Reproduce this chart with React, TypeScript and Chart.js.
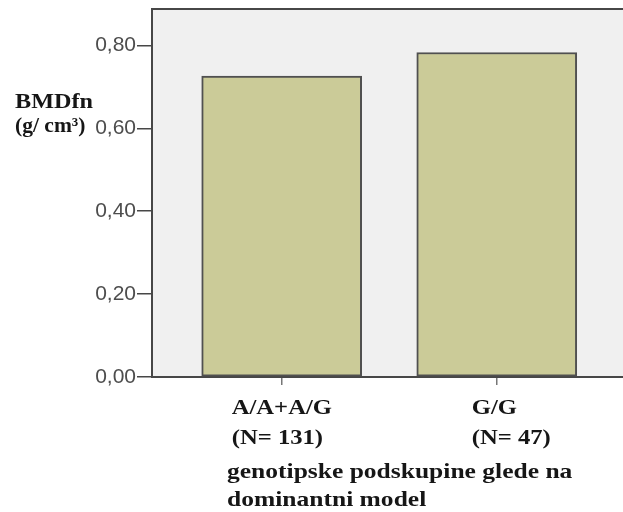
import React, { useEffect, useRef } from "react";
import { Chart, registerables } from "chart.js";

Chart.register(...registerables);

// Genotype subgroups (dominant model) and their mean femoral-neck BMD
const categories = ["A/A+A/G", "G/G"];
const groupSizes = ["(N= 131)", "(N= 47)"];
const meanBMD = [0.726, 0.783];

const yTicks = [0, 0.2, 0.4, 0.6, 0.8];
const yMax = 0.888;

const yTitle = ["BMDfn", "(g/ cm³)"];
const xTitle = ["genotipske podskupine glede na", "dominantni model"];

const SERIF = "bold 22px 'Liberation Serif', 'Times New Roman', serif";
const SANS = "'Liberation Sans', Arial, sans-serif";
const TEXT = "#161616";
const AXIS = "#474747";

// per-category horizontal shift of the label block relative to its tick
const labelShift = [-50, -25];

// serif captions are set slightly wide
function wideText(ctx: CanvasRenderingContext2D, text: string, x: number, y: number, sx: number) {
  ctx.save();
  ctx.translate(x, y);
  ctx.scale(sx, 1);
  ctx.fillText(text, 0, 0);
  ctx.restore();
}

const framePlugin = {
  id: "frame",
  beforeDraw(chart: any) {
    const { ctx, chartArea: a } = chart;
    ctx.save();
    ctx.fillStyle = "#f0f0f0";
    ctx.fillRect(a.left, a.top, a.right - a.left, a.bottom - a.top);
    ctx.restore();
  },
  afterDraw(chart: any) {
    const { ctx, chartArea: a, scales } = chart;
    ctx.save();
    ctx.strokeStyle = AXIS;
    ctx.lineWidth = 2;
    ctx.beginPath();
    ctx.moveTo(a.left, a.top);
    ctx.lineTo(a.right, a.top);
    ctx.stroke();

    ctx.font = SERIF;
    ctx.fillStyle = TEXT;
    ctx.textAlign = "left";
    ctx.textBaseline = "alphabetic";

    // y-axis title, horizontal at the left
    wideText(ctx, yTitle[0], 15, 108, 1.1);
    wideText(ctx, yTitle[1], 15, 132, 0.98);

    // category labels under the x axis
    const xs = scales.x;
    categories.forEach((c, i) => {
      const x = xs.getPixelForValue(i) + labelShift[i];
      wideText(ctx, c, x, a.bottom + 37, 1.12);
      wideText(ctx, groupSizes[i], x, a.bottom + 67, 1.12);
    });

    // x-axis title
    wideText(ctx, xTitle[0], a.left + 75, a.bottom + 101, 1.16);
    wideText(ctx, xTitle[1], a.left + 75, a.bottom + 129, 1.16);
    ctx.restore();
  },
};

export default function App() {
  const ref = useRef<HTMLCanvasElement>(null);

  useEffect(() => {
    document.body.style.margin = "0";
    const canvas = ref.current;
    if (!canvas) return;
    const chart = new Chart(canvas, {
      type: "bar",
      data: {
        datasets: [
          {
            data: meanBMD.map((v, i) => ({ x: i, y: v })),
            backgroundColor: "#cbcb98",
            borderColor: "#505050",
            borderWidth: 2,
            borderSkipped: false,
            barThickness: 160,
          },
        ],
      },
      options: {
        responsive: false,
        animation: false,
        devicePixelRatio: 1,
        layout: { padding: { top: 9, left: 0, right: 0, bottom: 0 } },
        plugins: {
          legend: { display: false },
          tooltip: { enabled: false },
          title: { display: false },
        },
        scales: {
          x: {
            type: "linear",
            offset: false,
            bounds: "data",
            min: -0.603,
            max: 1.587,
            afterBuildTicks: (s: any) => {
              s.ticks = categories.map((_, i) => ({ value: i }));
            },
            afterFit: (s: any) => {
              s.height = 135;
              s.paddingLeft = 0;
              s.paddingRight = 0;
            },
            ticks: { display: false },
            grid: {
              display: true,
              offset: false,
              drawOnChartArea: false,
              drawTicks: true,
              tickLength: 8,
              color: "#777777",
              lineWidth: 1.5,
            },
            border: { display: true, color: AXIS, width: 2 },
          },
          y: {
            type: "linear",
            min: 0,
            max: yMax,
            afterBuildTicks: (s: any) => {
              s.ticks = yTicks.map((v) => ({ value: v }));
            },
            afterFit: (s: any) => {
              s.width = 152;
              s.paddingTop = 0;
              s.paddingBottom = 0;
            },
            ticks: {
              padding: 1,
              color: "#4d4d4d",
              font: { family: SANS, size: 21 },
              callback: (v: any) => Number(v).toFixed(2).replace(".", ","),
            },
            grid: {
              display: true,
              drawOnChartArea: false,
              drawTicks: true,
              tickLength: 15,
              color: AXIS,
              lineWidth: 1.5,
            },
            border: { display: true, color: AXIS, width: 2 },
          },
        },
      },
      plugins: [framePlugin],
    });
    return () => chart.destroy();
  }, []);

  return (
    <div style={{ width: 623, height: 512, background: "#ffffff" }}>
      <canvas ref={ref} width={623} height={512} style={{ display: "block" }} />
    </div>
  );
}
